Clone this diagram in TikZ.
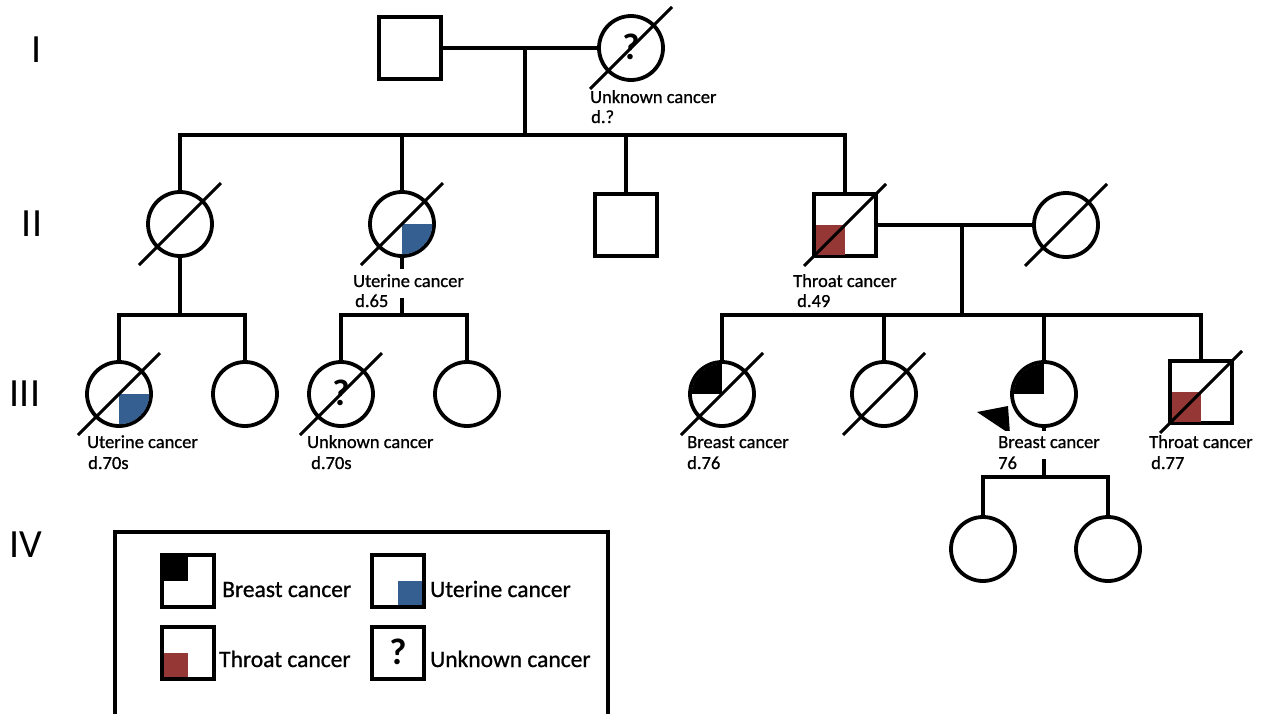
\documentclass[tikz,border=0pt]{standalone}
\usepackage{fontspec}
\setmainfont{Carlito}
\newfontfamily\labfont{Carlito}[FakeBold=0.9]
\usetikzlibrary{calc}
\definecolor{uter}{RGB}{54,95,145}
\definecolor{thr}{RGB}{149,55,53}
\newcommand\pedfill[4]{\begin{scope}\clip (#1.center) circle[radius=30.3pt];\fill[#2] (#1.center) rectangle ++(#3,#4);\end{scope}}
\newcommand\sqfill[4]{\fill[#2] (#1.center) rectangle ++(#3,#4);}
\newcommand\pedslash[1]{\draw[slash] ($(#1.center)+(-41,41)$) -- ($(#1.center)+(41,-41)$);}
\begin{document}
\begin{tikzpicture}[x=1pt,y=-1pt,
  fem/.style={circle,draw,line width=3.8pt,minimum size=64pt,inner sep=0pt},
  mal/.style={rectangle,draw,line width=3.8pt,minimum size=62pt,inner sep=0pt},
  legsq/.style={rectangle,draw,line width=3.8pt,minimum size=52pt,inner sep=0pt},
  conn/.style={line width=3.8pt},
  slash/.style={line width=3pt},
  lab/.style={anchor=base west,inner sep=0pt,font=\labfont\fontsize{18.5}{20}\selectfont},
  labw/.style={lab,fill=white,text depth=6pt,inner ysep=5pt},
  gen/.style={inner sep=0pt,font=\fontsize{40}{44}\selectfont},
  leg/.style={anchor=base west,inner sep=0pt,font=\labfont\fontsize{23.5}{26}\selectfont},
  qm/.style={inner sep=0pt,font=\fontsize{37}{40}\selectfont\bfseries}
]
\useasboundingbox (0,0) rectangle (1261,713);
\clip (0,0) rectangle (1261,713);

% generation labels
\node[gen] (gI) at (37,50) {I};
\node[gen] (gII) at (32,224) {II};
\node[gen] (gIII) at (25,394) {III};
\node[gen] (gIV) at (26,545) {IV};

% generation I
\node[mal] (i1) at (410,48) {};
\node[fem] (i2) at (631,48) {};
\node[qm] (i2q) at (631,47) {?};
\coordinate (m1) at (525,48);
\coordinate (s1) at (525,135);

% generation II
\node[fem] (ii1) at (180,224) {};
\node[fem] (ii2) at (402,224) {};
\node[mal] (ii3) at (626,225) {};
\node[mal] (ii4) at (845,225) {};
\node[fem] (ii5) at (1066,225) {};
\coordinate (c2) at (402,135);
\coordinate (c3) at (626,135);
\coordinate (m2) at (962,225);
\coordinate (s2) at (962,315);
\coordinate (sA) at (180,315);
\coordinate (sB) at (402,315);

% generation III
\node[fem] (iii1) at (119,394) {};
\node[fem] (iii2) at (245,394) {};
\node[fem] (iii3) at (341,394) {};
\node[qm] (iii3q) at (341,393) {?};
\node[fem] (iii4) at (467,394) {};
\node[fem] (iii5) at (722,394) {};
\node[fem] (iii6) at (884,394) {};
\node[fem] (iii7) at (1044,394) {};
\node[mal] (iii8) at (1201,392) {};
\coordinate (c6) at (884,315);
\coordinate (c7) at (1044,315);
\coordinate (s3) at (1044,477);

% generation IV
\node[fem] (iv1) at (983,549) {};
\node[fem] (iv2) at (1108,549) {};

% connectors
\draw[conn] (i1) -- (i2);
\draw[conn] (m1) -- (s1);
\draw[conn] (ii1) |- (s1) -| (ii4);
\draw[conn] (c2) -- (ii2);
\draw[conn] (c3) -- (ii3);
\draw[conn] (ii4) -- (ii5);
\draw[conn] (m2) -- (s2);
\draw[conn] (ii1) -- (sA);
\draw[conn] (iii1) |- (sA) -| (iii2);
\draw[conn] (ii2) -- (sB);
\draw[conn] (iii3) |- (sB) -| (iii4);
\draw[conn] (iii5) |- (s2) -| (iii8);
\draw[conn] (c6) -- (iii6);
\draw[conn] (c7) -- (iii7);
\draw[conn] (iii7) -- (s3);
\draw[conn] (iv1) |- (s3) -| (iv2);

% affected fills
\pedfill{ii2}{uter}{40}{40}
\sqfill{ii4}{thr}{-29.5}{29.5}
\pedfill{iii1}{uter}{40}{40}
\pedfill{iii5}{black}{-40}{-40}
\pedfill{iii7}{black}{-40}{-40}
\sqfill{iii8}{thr}{-29.5}{29.5}

% deceased slashes
\pedslash{i2}
\pedslash{ii1}
\pedslash{ii2}
\pedslash{ii4}
\pedslash{ii5}
\pedslash{iii1}
\pedslash{iii3}
\pedslash{iii5}
\pedslash{iii6}
\pedslash{iii8}

% proband arrow
\fill (977,412) -- (1008,406) -- (1010,434) -- cycle;

% labels
\node[lab] (l1a) at (590,103) {Unknown cancer};
\node[lab] (l1b) at (591,123) {d.?};
\node[labw] (l2a) at (353,287) {Uterine cancer};
\node[lab] (l2b) at (355,307) {d.65};
\node[lab] (l3a) at (793,287) {Throat cancer};
\node[lab] (l3b) at (797,307) {d.49};
\node[lab] (l4a) at (87,448) {Uterine cancer};
\node[lab] (l4b) at (88,469) {d.70s};
\node[lab] (l5a) at (307,448) {Unknown cancer};
\node[lab] (l5b) at (311,469) {d.70s};
\node[lab] (l6a) at (687,448) {Breast cancer};
\node[lab] (l6b) at (687,469) {d.76};
\node[labw] (l7a) at (998,448) {Breast cancer};
\node[lab] (l7b) at (998,469) {76};
\node[lab] (l8a) at (1149,448) {Throat cancer};
\node[lab] (l8b) at (1151,469) {d.77};

% legend
\draw[line width=3.8pt] (115,532) rectangle (608,740);
\node[legsq] (lq1) at (188,581) {};
\node[legsq] (lq2) at (398,581) {};
\node[legsq] (lq3) at (188,653) {};
\node[legsq] (lq4) at (398,653) {};
\sqfill{lq1}{black}{-24}{-24}
\sqfill{lq2}{uter}{24}{24}
\sqfill{lq3}{thr}{-24}{24}
\node[qm] (lq4q) at (398,652) {?};
\node[leg] (lt1) at (222,597) {Breast cancer};
\node[leg] (lt2) at (430,597) {Uterine cancer};
\node[leg] (lt3) at (219,667) {Throat cancer};
\node[leg] (lt4) at (430,667) {Unknown cancer};
\end{tikzpicture}
\end{document}
